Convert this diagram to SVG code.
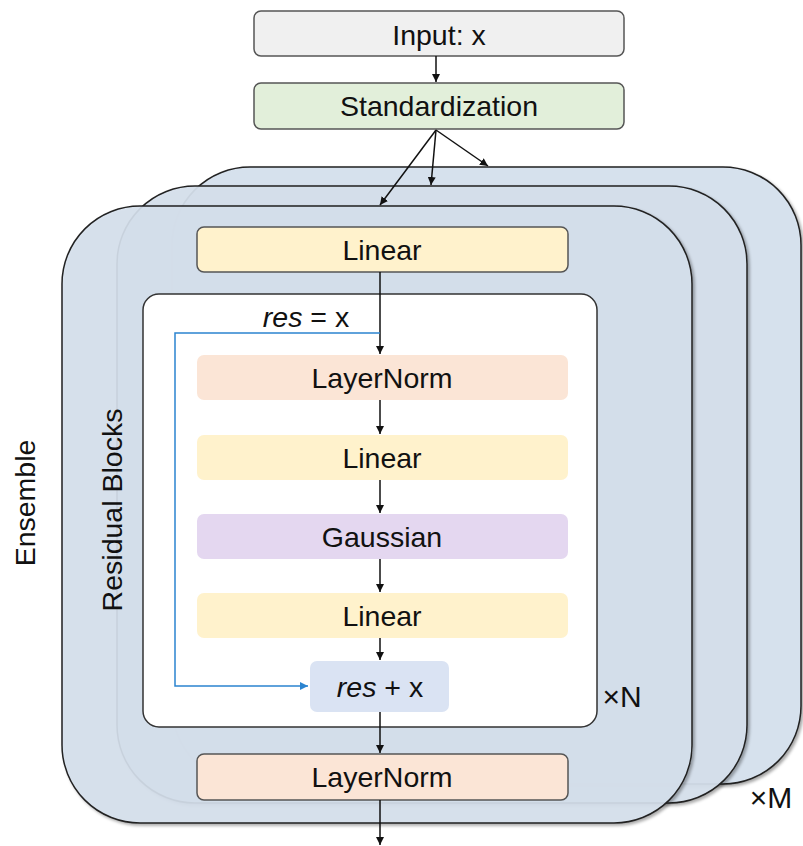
<svg xmlns="http://www.w3.org/2000/svg" width="803" height="846" viewBox="0 0 803 846">
<defs>
<marker id="ah" viewBox="0 0 10 10" refX="10" refY="5" markerWidth="8" markerHeight="8" markerUnits="userSpaceOnUse" orient="auto"><path d="M0,0 L10,5 L0,10 z" fill="#111"/></marker>
<marker id="ahb" viewBox="0 0 10 10" refX="10" refY="5" markerWidth="8" markerHeight="8" markerUnits="userSpaceOnUse" orient="auto"><path d="M0,0 L10,5 L0,10 z" fill="#2b84d0"/></marker>
<filter id="sh" x="-5%" y="-5%" width="112%" height="112%"><feDropShadow dx="2" dy="2" stdDeviation="1.5" flood-color="#000" flood-opacity="0.35"/></filter>
</defs>
<style>
text{font-family:"Liberation Sans",Arial,sans-serif;font-size:28.5px;fill:#111;text-anchor:middle}
.card{fill:#d6e1ed;stroke:#222;stroke-width:1.5}
.box{stroke:#555;stroke-width:1.5}
.edge{stroke:#111;stroke-width:1.5;fill:none;marker-end:url(#ah)}
.blue{stroke:#2b84d0;stroke-width:1.5;fill:none;marker-end:url(#ahb)}
.mult{font-size:30px}
</style>
<g id="card-back"><rect class="card" x="172" y="167" width="629" height="617" rx="78" filter="url(#sh)"/></g>
<g id="card-middle"><rect class="card" x="117" y="186" width="630" height="617" rx="78" filter="url(#sh)" fill-opacity="0.92"/></g>
<g id="card-front"><rect class="card" x="62" y="206" width="630" height="617" rx="78" filter="url(#sh)" fill-opacity="0.9"/></g>
<g id="input"><rect class="box" x="254" y="11" width="370" height="45" rx="7" fill="#f0f0f0"/><text x="439" y="45">Input: x</text></g>
<g id="standardization"><rect class="box" x="254" y="83" width="370" height="46" rx="7" fill="#e2efda"/><text x="439" y="116">Standardization</text></g>
<g id="linear-top"><rect class="box" x="197" y="227" width="371" height="45" rx="7" fill="#fff2cc"/><text x="382" y="260">Linear</text></g>
<g id="residual-blocks"><rect x="143" y="294" width="454" height="433" rx="16" fill="#fff" stroke="#333" stroke-width="1.5"/><text transform="translate(122,510) rotate(-90)">Residual Blocks</text></g>
<g id="res-eq"><text x="306" y="327"><tspan font-style="italic">res</tspan> = x</text></g>
<g id="layernorm-1"><rect x="197" y="355" width="371" height="45" rx="7" fill="#fbe5d6"/><text x="382" y="388">LayerNorm</text></g>
<g id="linear-1"><rect x="197" y="435" width="371" height="45" rx="7" fill="#fff2cc"/><text x="382" y="468">Linear</text></g>
<g id="gaussian"><rect x="197" y="514" width="371" height="45" rx="7" fill="#e4d7f0"/><text x="382" y="547">Gaussian</text></g>
<g id="linear-2"><rect x="197" y="593" width="371" height="45" rx="7" fill="#fff2cc"/><text x="382" y="626">Linear</text></g>
<g id="res-plus"><rect x="310" y="661" width="139" height="51" rx="7" fill="#dae3f3"/><text x="380" y="697"><tspan font-style="italic">res</tspan> + x</text></g>
<g id="layernorm-out"><rect class="box" x="197" y="754" width="371" height="46" rx="7" fill="#fbe5d6"/><text x="382" y="787">LayerNorm</text></g>
<g id="labels">
<text class="mult" x="622" y="707">×N</text>
<text class="mult" x="771" y="808">×M</text>
<text transform="translate(35,503) rotate(-90)">Ensemble</text>
</g>
<g id="connectors">
<line class="edge" x1="436" y1="56" x2="436" y2="82"/>
<line class="edge" x1="436" y1="130" x2="380" y2="205"/>
<line class="edge" x1="436" y1="130" x2="431" y2="185"/>
<line class="edge" x1="436" y1="130" x2="488" y2="166"/>
<line class="edge" x1="380" y1="272" x2="380" y2="354"/>
<line class="edge" x1="380" y1="400" x2="380" y2="434"/>
<line class="edge" x1="380" y1="480" x2="380" y2="513"/>
<line class="edge" x1="380" y1="559" x2="380" y2="592"/>
<line class="edge" x1="380" y1="638" x2="380" y2="660"/>
<line class="edge" x1="380" y1="712" x2="380" y2="753"/>
<line class="edge" x1="380" y1="800" x2="380" y2="845"/>
<polyline class="blue" points="380,333 175,333 175,686 308,686"/>
</g>
</svg>
